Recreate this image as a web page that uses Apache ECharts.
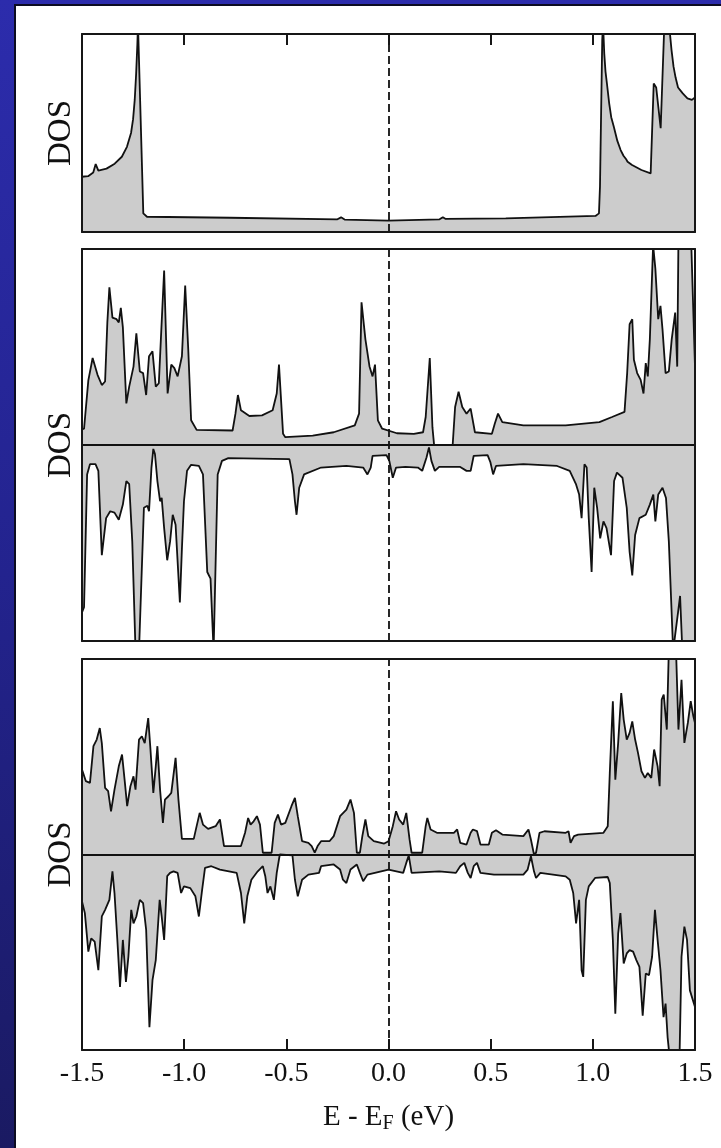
<!DOCTYPE html>
<html>
<head>
<meta charset="utf-8">
<title>DOS</title>
<script src="https://cdn.jsdelivr.net/npm/echarts@6/dist/echarts.min.js"></script>
<style>
  html, body { margin: 0; padding: 0; width: 721px; height: 1148px; overflow: hidden; }
  body { background: linear-gradient(180deg, #2c2cac 0%, #23238e 50%, #1a1a62 100%); position: relative; }
  #paper { position: absolute; left: 14px; top: 4px; right: 0; bottom: 0; background: #fff;
           border-left: 2px solid #0c0c22; border-top: 2px solid #0c0c22; }
  #main { position: absolute; left: 0; top: 0; width: 721px; height: 1148px; }
</style>
</head>
<body>
<div id="paper"></div>
<div id="main"></div>
<script type="text/javascript">
    // 能量刻度 (eV)
    var ticksE = [-1.5, -1.0, -0.5, 0.0, 0.5, 1.0, 1.5];

    // 上图: 总 DOS  [E, DOS]
    var dos1 = [[-1.5,2.79],[-1.47,2.82],[-1.445,3.0],[-1.433,3.43],[-1.42,3.1],[-1.411,3.05],[-1.38,3.2],
      [-1.34,3.45],[-1.305,3.8],[-1.28,4.3],[-1.26,5.0],[-1.25,5.7],[-1.242,6.67],[-1.235,8.0],[-1.229,9.5],
      [-1.226,10.5],[-1.2,0.94],[-1.182,0.77],[-0.776,0.72],[-0.25,0.64],[-0.232,0.74],
      [-0.215,0.63],[0.0,0.57],[0.25,0.64],[0.266,0.75],[0.28,0.66],[0.574,0.69],[1.013,0.81],[1.03,0.94],
      [1.035,2.3],[1.046,9.7],[1.05,10.5],[1.056,9.0],[1.062,8.1],[1.069,7.5],[1.08,6.5],[1.09,5.8],[1.103,5.3],
      [1.12,4.6],[1.136,4.14],[1.15,3.85],[1.163,3.67],[1.17,3.55],[1.192,3.38],
      [1.238,3.13],[1.283,2.96],[1.298,7.5],[1.31,7.3],[1.332,5.24],[1.35,10.5],[1.373,10.5],[1.385,9.2],
      [1.395,8.35],[1.405,7.8],[1.417,7.3],[1.44,7.0],[1.463,6.75],[1.485,6.67],[1.5,6.8]];

    // 中图: 自旋向上 / 向下
    var dos2Up = [[-1.5,0.8],[-1.49,0.83],[-1.469,3.3],[-1.448,4.44],[-1.424,3.58],[-1.403,3.06],[-1.387,3.24],
      [-1.376,6.25],[-1.366,8.05],[-1.351,6.5],[-1.331,6.42],[-1.32,6.25],[-1.31,7.0],[-1.3,6.0],[-1.283,2.12],
      [-1.269,2.98],[-1.248,4.0],[-1.234,5.7],[-1.217,3.75],[-1.201,3.67],[-1.186,2.55],[-1.172,4.53],[-1.155,4.78],
      [-1.139,2.98],[-1.124,3.15],[-1.114,5.39],[-1.098,8.9],[-1.081,2.63],[-1.063,4.1],[-1.048,3.92],[-1.032,3.5],
      [-1.011,4.53],[-0.995,8.14],[-0.98,4.87],[-0.966,1.26],[-0.939,0.77],[-0.763,0.74],[-0.749,1.6],[-0.737,2.55],
      [-0.722,1.77],[-0.681,1.48],[-0.619,1.51],[-0.567,1.77],[-0.547,2.63],[-0.536,4.1],[-0.516,0.57],[-0.505,0.4],
      [-0.371,0.48],[-0.268,0.65],[-0.165,1.0],[-0.144,1.6],[-0.132,7.28],[-0.113,5.39],[-0.093,4.01],[-0.078,3.5],
      [-0.066,4.1],[-0.052,1.26],[-0.031,0.83],[0.041,0.6],[0.124,0.57],[0.169,0.65],[0.182,1.43],[0.202,4.44],
      [0.215,0.91],[0.223,0.02],[0.314,0],[0.326,1.94],[0.343,2.72],[0.361,1.94],[0.382,1.6],[0.402,1.86],
      [0.423,0.65],[0.506,0.57],[0.52,1.08],[0.536,1.6],[0.557,1.17],[0.66,1.0],[0.867,1.0],[1.032,1.17],
      [1.094,1.43],[1.155,1.69],[1.168,3.67],[1.18,6.16],[1.193,6.42],[1.201,4.35],[1.217,3.67],[1.234,3.32],
      [1.248,2.63],[1.259,4.18],[1.269,3.5],[1.279,5.39],[1.295,10.2],[1.306,9.0],[1.32,6.42],[1.331,7.1],
      [1.341,5.9],[1.356,3.67],[1.372,3.75],[1.386,5.39],[1.403,6.76],[1.413,4.0],[1.419,10.5],[1.481,10.5],[1.5,4.0]];
    var dos2Dn = [[-1.5,-8.54],[-1.49,-8.28],[-1.475,-1.5],[-1.461,-0.98],[-1.434,-0.98],[-1.42,-1.32],[-1.403,-5.62],
      [-1.382,-3.73],[-1.362,-3.38],[-1.341,-3.45],[-1.32,-3.81],[-1.3,-3.04],[-1.283,-1.84],[-1.269,-2.0],
      [-1.254,-4.93],[-1.238,-10.5],[-1.221,-10.5],[-1.213,-10.5],[-1.197,-3.2],[-1.18,-3.1],[-1.172,-3.38],
      [-1.16,-1.15],[-1.151,-0.2],[-1.143,-0.46],[-1.131,-1.84],[-1.118,-2.87],[-1.11,-2.7],[-1.098,-4.24],
      [-1.083,-5.88],[-1.069,-4.93],[-1.056,-3.56],[-1.042,-4.07],[-1.021,-8.03],[-1.011,-5.28],[-1.001,-2.87],
      [-0.986,-1.32],[-0.966,-1.01],[-0.928,-1.07],[-0.908,-1.5],[-0.887,-6.48],[-0.871,-6.82],[-0.856,-10.5],
      [-0.836,-1.5],[-0.815,-0.81],[-0.784,-0.67],[-0.485,-0.72],[-0.47,-1.5],[-0.458,-2.87],[-0.45,-3.56],
      [-0.437,-2.18],[-0.413,-1.5],[-0.33,-1.15],[-0.206,-1.07],[-0.124,-1.15],[-0.103,-1.5],[-0.087,-1.15],
      [-0.078,-0.55],[-0.01,-0.52],[0.004,-0.81],[0.021,-1.67],[0.037,-1.15],[0.083,-1.12],[0.144,-1.15],
      [0.165,-1.32],[0.186,-0.64],[0.198,-0.12],[0.21,-0.81],[0.227,-1.32],[0.248,-1.12],[0.351,-1.12],
      [0.382,-1.32],[0.402,-1.32],[0.417,-0.55],[0.485,-0.52],[0.499,-0.89],[0.512,-1.5],[0.526,-1.07],
      [0.66,-0.98],[0.825,-1.07],[0.887,-1.32],[0.918,-2.01],[0.933,-2.53],[0.945,-3.73],[0.959,-0.98],
      [0.97,-1.15],[0.98,-3.73],[0.994,-6.48],[1.007,-2.18],[1.021,-3.21],[1.036,-4.76],[1.052,-3.9],
      [1.067,-4.24],[1.089,-5.62],[1.104,-1.84],[1.118,-1.41],[1.145,-1.67],[1.166,-3.21],[1.18,-5.45],
      [1.193,-6.65],[1.207,-4.59],[1.228,-3.73],[1.259,-3.56],[1.279,-3.04],[1.296,-2.53],[1.306,-3.9],
      [1.32,-2.53],[1.341,-2.18],[1.358,-2.7],[1.372,-4.93],[1.393,-10.5],[1.417,-8.54],[1.427,-7.7],
      [1.438,-10.5],[1.5,-10.5]];

    // 下图: 自旋向上 / 向下
    var dos3Up = [[-1.5,4.34],[-1.481,3.75],[-1.461,3.66],[-1.444,5.54],[-1.428,5.88],[-1.413,6.47],[-1.403,5.7],
      [-1.387,3.41],[-1.372,3.24],[-1.358,2.21],[-1.341,3.32],[-1.32,4.51],[-1.304,5.11],[-1.29,3.66],[-1.279,2.47],
      [-1.263,3.49],[-1.248,4.0],[-1.238,3.32],[-1.221,5.88],[-1.207,6.05],[-1.193,5.7],[-1.176,6.98],[-1.166,5.54],
      [-1.151,3.15],[-1.139,4.51],[-1.131,5.54],[-1.118,3.32],[-1.104,1.62],[-1.094,2.81],[-1.077,2.98],[-1.063,3.15],
      [-1.042,4.94],[-1.028,2.81],[-1.011,0.8],[-0.953,0.8],[-0.939,1.45],[-0.924,2.13],[-0.908,1.53],[-0.883,1.31],
      [-0.846,1.45],[-0.825,1.79],[-0.805,0.43],[-0.722,0.43],[-0.702,1.11],[-0.687,1.87],[-0.675,1.53],[-0.66,1.7],
      [-0.644,1.96],[-0.629,1.53],[-0.615,0.09],[-0.572,0.09],[-0.557,1.62],[-0.541,2.04],[-0.526,1.53],[-0.505,1.62],
      [-0.475,2.47],[-0.458,2.9],[-0.444,1.96],[-0.423,0.68],[-0.392,0.6],[-0.376,0.43],[-0.361,0.09],[-0.347,0.43],
      [-0.33,0.68],[-0.289,0.68],[-0.268,0.94],[-0.237,1.96],[-0.206,2.3],[-0.186,2.81],[-0.169,2.13],[-0.155,0.09],
      [-0.14,0.09],[-0.128,0.94],[-0.113,1.79],[-0.099,0.94],[-0.072,0.68],[-0.021,0.56],[0.0,0.68],[0.021,1.45],
      [0.037,2.21],[0.052,1.79],[0.072,1.53],[0.087,2.13],[0.103,0.77],[0.113,0.09],[0.165,0.09],[0.182,1.45],
      [0.19,1.87],[0.206,1.28],[0.237,1.11],[0.32,1.11],[0.336,1.28],[0.351,0.6],[0.382,0.51],[0.402,1.11],
      [0.413,1.28],[0.433,1.2],[0.45,0.51],[0.491,0.51],[0.506,1.11],[0.526,1.24],[0.557,1.02],[0.66,0.94],
      [0.685,1.28],[0.697,0.77],[0.712,0.0],[0.722,0.09],[0.739,1.11],[0.763,1.19],[0.867,1.11],[0.881,1.19],
      [0.891,0.6],[0.908,0.94],[0.928,1.02],[1.052,1.11],[1.073,1.45],[1.083,4.17],[1.098,7.84],[1.11,3.83],
      [1.124,5.71],[1.139,8.26],[1.151,6.9],[1.166,5.88],[1.18,6.22],[1.193,6.81],[1.207,5.88],[1.221,5.2],
      [1.238,4.26],[1.255,3.92],[1.269,4.17],[1.286,3.92],[1.3,5.37],[1.317,4.51],[1.327,3.49],[1.337,7.92],
      [1.347,8.18],[1.362,6.39],[1.372,10.5],[1.407,10.5],[1.419,6.39],[1.434,8.94],[1.448,5.71],[1.465,6.73],
      [1.479,7.84],[1.492,7.07],[1.5,6.73]];
    var dos3Dn = [[-1.5,-2.4],[-1.486,-3.0],[-1.469,-4.97],[-1.455,-4.29],[-1.438,-4.46],[-1.42,-5.92],[-1.403,-3.17],
      [-1.387,-2.83],[-1.366,-2.32],[-1.351,-0.86],[-1.341,-1.97],[-1.327,-4.37],[-1.314,-6.78],[-1.3,-4.37],
      [-1.285,-6.52],[-1.273,-5.23],[-1.259,-2.83],[-1.248,-3.52],[-1.234,-3.17],[-1.217,-2.32],[-1.201,-2.49],
      [-1.186,-3.86],[-1.17,-8.83],[-1.155,-6.43],[-1.139,-5.4],[-1.12,-2.32],[-1.11,-3.17],[-1.098,-4.37],
      [-1.083,-1.11],[-1.069,-0.94],[-1.052,-0.86],[-1.032,-0.94],[-1.015,-1.97],[-1.001,-1.63],[-0.97,-1.72],
      [-0.945,-2.14],[-0.928,-3.17],[-0.912,-1.8],[-0.898,-0.69],[-0.867,-0.6],[-0.825,-0.77],[-0.743,-0.94],
      [-0.722,-1.97],[-0.706,-3.52],[-0.691,-2.14],[-0.671,-1.29],[-0.64,-0.86],[-0.615,-0.6],[-0.603,-1.11],
      [-0.592,-1.97],[-0.578,-1.63],[-0.561,-2.32],[-0.547,-0.94],[-0.532,0.0],[-0.47,-0.05],[-0.458,-1.29],
      [-0.444,-2.14],[-0.423,-1.29],[-0.392,-1.03],[-0.34,-0.94],[-0.33,-0.6],[-0.268,-0.51],[-0.237,-0.77],
      [-0.223,-1.29],[-0.206,-1.46],[-0.186,-0.77],[-0.155,-0.51],[-0.14,-0.94],[-0.124,-1.37],[-0.103,-1.03],
      [0.0,-0.77],[0.072,-0.94],[0.087,-0.43],[0.099,-0.05],[0.113,-0.94],[0.248,-0.86],[0.33,-0.94],[0.351,-0.6],
      [0.371,-0.43],[0.388,-0.94],[0.402,-1.2],[0.417,-0.6],[0.433,-0.43],[0.45,-0.94],[0.516,-1.03],[0.66,-1.03],
      [0.681,-0.77],[0.697,-0.09],[0.712,-0.86],[0.722,-1.2],[0.743,-0.94],[0.867,-1.12],[0.887,-1.29],[0.904,-1.97],
      [0.918,-3.52],[0.933,-2.32],[0.945,-5.92],[0.953,-6.26],[0.966,-2.32],[0.98,-1.63],[1.011,-1.2],[1.073,-1.15],
      [1.083,-1.46],[1.098,-4.37],[1.11,-8.15],[1.124,-4.03],[1.135,-3.0],[1.151,-5.57],[1.166,-5.06],[1.18,-4.89],
      [1.197,-4.97],[1.213,-5.4],[1.228,-5.75],[1.244,-8.24],[1.259,-6.09],[1.275,-6.17],[1.29,-5.23],[1.304,-2.83],
      [1.317,-4.37],[1.331,-5.92],[1.346,-8.32],[1.356,-7.63],[1.366,-9.35],[1.377,-10.5],[1.424,-10.5],[1.434,-5.23],
      [1.448,-3.69],[1.461,-4.37],[1.475,-6.95],[1.5,-7.8]];

    var FONT = '"Liberation Serif", "Times New Roman", serif';
    var INK = '#161616';

    var grids = [
      { left: 82, top: 34, width: 613, height: 198 },
      { left: 82, top: 249, width: 613, height: 392 },
      { left: 82, top: 659, width: 613, height: 391 }
    ];
    var yRange = [[0, 10], [-10, 10], [-10, 10]];

    function xAxisFor(gi, position, ticks, labels) {
      var ax = {
        type: 'value', gridIndex: gi, position: position,
        min: ticksE[0], max: ticksE[ticksE.length - 1], interval: 0.5, z: 10,
        axisLine: { show: true, onZero: false, lineStyle: { color: INK, width: 2 } },
        axisTick: { show: ticks, inside: true, length: 11, lineStyle: { color: INK, width: 2 } },
        axisLabel: { show: labels, margin: 10, color: '#111', fontFamily: FONT, fontSize: 28,
          formatter: function (v) { return v.toFixed(1); } },
        splitLine: { show: false }
      };
      if (labels) {
        ax.name = '{m|E - E}{s|F}{m| (eV)}';
        ax.nameLocation = 'middle';
        ax.nameGap = 50;
        ax.nameTextStyle = {
          rich: {
            m: { fontFamily: FONT, fontSize: 29, color: '#111', lineHeight: 34 },
            s: { fontFamily: FONT, fontSize: 20, color: '#111', lineHeight: 14, verticalAlign: 'bottom' }
          }
        };
      }
      return ax;
    }

    function yAxisFor(gi, position) {
      var ax = {
        type: 'value', gridIndex: gi, position: position,
        min: yRange[gi][0], max: yRange[gi][1], z: 10,
        axisLine: { show: true, onZero: false, lineStyle: { color: INK, width: 2 } },
        axisTick: { show: false }, axisLabel: { show: false }, splitLine: { show: false }
      };
      if (position === 'left') {
        ax.name = 'DOS';
        ax.nameLocation = 'middle';
        ax.nameGap = 4;
        ax.nameTextStyle = { fontFamily: FONT, fontSize: 33, color: '#111' };
      }
      return ax;
    }

    function dosSeries(gi, data, withMarks) {
      var s = {
        type: 'line', xAxisIndex: gi * 2, yAxisIndex: gi * 2, data: data,
        symbol: 'none', showSymbol: false, clip: true, silent: true, z: 2,
        lineStyle: { color: '#111', width: 1.8 },
        areaStyle: { color: '#cccccc', opacity: 1, origin: 'auto' }
      };
      if (withMarks) {
        var marks = [{ xAxis: 0, lineStyle: { type: [8, 4], width: 1.8, color: '#111' } }];
        if (gi > 0) marks.push({ yAxis: 0, lineStyle: { type: 'solid', width: 1.8, color: '#111' } });
        s.markLine = { symbol: 'none', silent: true, label: { show: false }, animation: false, data: marks };
      }
      return s;
    }

    var chart = echarts.init(document.getElementById('main'), null, { renderer: 'canvas' });
    chart.setOption({
      backgroundColor: 'transparent',
      animation: false,
      grid: grids,
      xAxis: [
        xAxisFor(0, 'bottom', false, false), xAxisFor(0, 'top', true, false),
        xAxisFor(1, 'bottom', false, false), xAxisFor(1, 'top', false, false),
        xAxisFor(2, 'bottom', true, true), xAxisFor(2, 'top', false, false)
      ],
      yAxis: [
        yAxisFor(0, 'left'), yAxisFor(0, 'right'),
        yAxisFor(1, 'left'), yAxisFor(1, 'right'),
        yAxisFor(2, 'left'), yAxisFor(2, 'right')
      ],
      series: [
        dosSeries(0, dos1, true),
        dosSeries(1, dos2Up, true),
        dosSeries(1, dos2Dn, false),
        dosSeries(2, dos3Up, true),
        dosSeries(2, dos3Dn, false)
      ]
    });
</script>
</body>
</html>
